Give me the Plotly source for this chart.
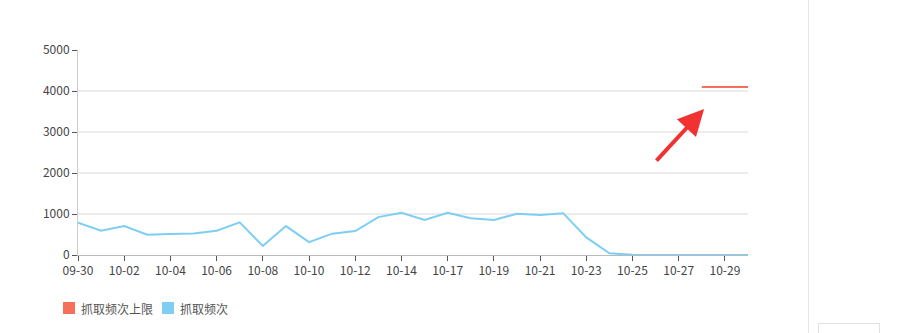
import plotly.graph_objects as go

dates = ["09-30", "10-01", "10-02", "10-03", "10-04", "10-05", "10-06", "10-07", "10-08", "10-09",
         "10-10", "10-11", "10-12", "10-13", "10-14", "10-16", "10-17", "10-18", "10-19", "10-20",
         "10-21", "10-22", "10-23", "10-24", "10-25", "10-26", "10-27", "10-28", "10-29", "10-30"]
crawl_freq = [790, 590, 705, 495, 510, 525, 590, 795, 220, 705,
              315, 520, 585, 925, 1030, 855, 1030, 895, 855, 1005,
              975, 1020, 430, 40, 5, 0, 0, 0, 0, 0]
crawl_limit = [None] * 27 + [4100, 4100, 4100]
tick_labels = dates[::2]
series_names = ["抓取频次上限", "抓取频次"]
series_colors = ["#f4705a", "#7ecef4"]

W, H = 902, 333
L, R, T, B = 78, 748, 50, 255
pw, ph = R - L, B - T

def px(x):
    return (x - L) / pw

def py(y):
    return (B - y) / ph

idx = list(range(len(dates)))
fig = go.Figure()
fig.add_trace(go.Scatter(x=idx, y=crawl_limit, mode="lines", line=dict(color=series_colors[0], width=2),
                         showlegend=False, hoverinfo="skip", cliponaxis=False, name=series_names[0]))
fig.add_trace(go.Scatter(x=idx, y=crawl_freq, mode="lines", line=dict(color=series_colors[1], width=2),
                         showlegend=False, cliponaxis=False, name=series_names[1]))

# manual legend (squares + text)
legend_boxes = [(63, 75), (162, 174)]
shapes = []
annotations = []
for (x0, x1), name, col in zip(legend_boxes, series_names, series_colors):
    shapes.append(dict(type="rect", xref="paper", yref="paper", x0=px(x0), x1=px(x1),
                       y0=py(314), y1=py(302), fillcolor=col, line=dict(width=0)))
    annotations.append(dict(x=px(x1 + 4), y=py(308.5), xref="paper", yref="paper", text=name,
                            showarrow=False, xanchor="left", yanchor="middle",
                            font=dict(size=12, color="#555")))

annotations.append(dict(x=27.1, y=3560, xref="x", yref="y", ax=-49, ay=53, axref="pixel", ayref="pixel",
                        text="", showarrow=True, arrowhead=2, arrowsize=1.3, arrowwidth=4,
                        arrowcolor="#f03232"))
shapes += [
    dict(type="line", xref="paper", yref="paper", x0=px(808.5), x1=px(808.5), y0=py(333), y1=py(0),
         line=dict(color="#e6e6e6", width=1)),
    dict(type="rect", xref="paper", yref="paper", x0=px(818.5), x1=px(879.5), y0=py(340), y1=py(323.5),
         line=dict(color="#e0e0e0", width=1)),
]

font = dict(family="Noto Sans CJK SC, Microsoft YaHei, sans-serif", size=12, color="#444")
fig.update_layout(
    width=W, height=H,
    margin=dict(l=L, r=W - R, t=T, b=H - B),
    paper_bgcolor="white", plot_bgcolor="white",
    font=font,
    showlegend=False,
    xaxis=dict(range=[0, len(dates) - 1], tickmode="array", tickvals=idx[::2], ticktext=tick_labels,
               showgrid=False, zeroline=False, showline=True, linecolor="#bbb", linewidth=1,
               layer="below traces",
               ticks="outside", ticklen=5, tickcolor="#555", tickfont=dict(size=12, color="#444")),
    yaxis=dict(range=[0, 5000], tickvals=[0, 1000, 2000, 3000, 4000, 5000],
               showgrid=True, gridcolor="#ececec", gridwidth=2, zeroline=False,
               showline=True, linecolor="#ccc", linewidth=1, layer="below traces",
               ticks="outside", ticklen=5, tickcolor="#555", tickfont=dict(size=12, color="#444")),
    annotations=annotations,
    shapes=shapes,
)
fig.write_html("out.html")
